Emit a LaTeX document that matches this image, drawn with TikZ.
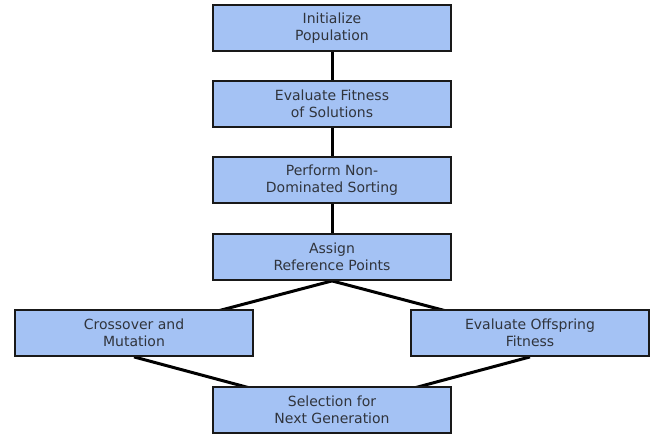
\documentclass[tikz,border=0pt]{standalone}
\usepackage{fontspec}
\setmainfont{DejaVu Sans}
\usetikzlibrary{backgrounds}
\definecolor{boxfill}{HTML}{A4C2F4}
\definecolor{txt}{HTML}{30343C}
\begin{document}
\begin{tikzpicture}[x=1pt,y=-1pt,
  box/.style={draw=black!90, line width=1.8pt, fill=boxfill, minimum width=238pt, minimum height=46pt,
    inner sep=0pt, align=center, text=txt, font=\fontsize{14pt}{17pt}\selectfont},
  link/.style={line width=3pt, black}]
\useasboundingbox (0,0) rectangle (654,437);
\node[box] (init) at (332,28) {Initialize\\Population};
\node[box] (eval) at (332,104) {Evaluate Fitness\\of Solutions};
\node[box] (sort) at (332,180) {Perform Non-\\Dominated Sorting};
\node[box] (ref) at (332,257) {Assign\\Reference Points};
\node[box] (cross) at (134,333) {Crossover and\\Mutation};
\node[box] (offs) at (530,333) {Evaluate Offspring\\Fitness};
\node[box] (sel) at (332,410) {Selection for\\Next Generation};
\begin{scope}[on background layer]
\draw[link] (init.south) -- (eval.center);
\draw[link] (eval.south) -- (sort.center);
\draw[link] (sort.south) -- (ref.center);
\draw[link] (ref.south) -- (cross.center);
\draw[link] (ref.south) -- (offs.center);
\draw[link] (cross.south) -- (sel.center);
\draw[link] (offs.south) -- (sel.center);
\end{scope}
\end{tikzpicture}
\end{document}
